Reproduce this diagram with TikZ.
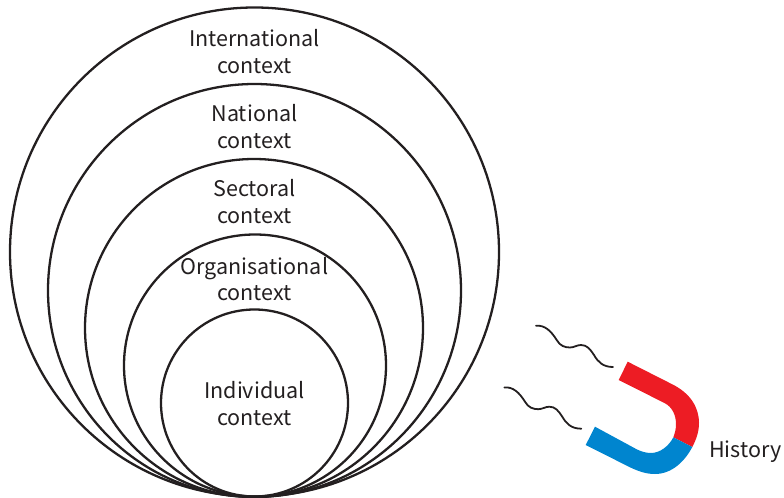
\documentclass[tikz,border=0pt]{standalone}
\usepackage{fontspec}
\setmainfont{Noto Sans CJK SC}
\definecolor{magred}{RGB}{237,28,36}
\definecolor{magblue}{RGB}{0,133,207}
\definecolor{inkc}{RGB}{35,31,32}
\tikzset{
  ring/.style={draw=inkc,line width=2.3pt},
  lab/.style={text=inkc,font=\fontsize{21.6}{26.5}\selectfont,align=center,inner sep=0pt},
  wave/.style={draw=inkc,line width=1.8pt,line cap=round}
}
\begin{document}
\begin{tikzpicture}[x=1bp,y=-1bp]
\useasboundingbox (0,0) rectangle (784,498);
\draw[ring] (254.5,252) circle[radius=244.5];
\draw[ring] (254.5,290.5) circle[radius=206.5];
\draw[ring] (254,328) circle[radius=169];
\draw[ring] (255,365.5) circle[radius=131];
\draw[ring] (254.5,403) circle[radius=93.5];
\node[lab] (intl) at (254.5,51.5) {International\\context};
\node[lab] (natl) at (254.5,126.5) {National\\context};
\node[lab] (sect) at (254.5,201.5) {Sectoral\\context};
\node[lab] (orgn) at (254.5,279) {Organisational\\context};
\node[lab] (indv) at (254.5,403.5) {Individual\\context};
\node[lab,anchor=west] (hist) at (709,452) {History};
% magnet
\fill[magred] (627.7,361.7) -- (618.7,380) -- (665,403.3)
  .. controls (672,407) and (676,415) .. (676,424)
  .. controls (676,429) and (675,433) .. (673.3,437.3)
  -- (692.3,447) .. controls (696,440) and (699,432) .. (699,423)
  .. controls (699,407) and (690,393) .. (671.7,384) -- cycle;
\fill[magblue] (595,426.7) -- (585.7,445) -- (630,467.3)
  .. controls (640,472) and (647,474) .. (655,474)
  .. controls (672,474) and (685,461) .. (692.3,447)
  -- (673.3,437.3) .. controls (669,446) and (660,453) .. (651,453)
  .. controls (647,453) and (642,452) .. (636.7,449.3) -- cycle;
% waves
\draw[wave] (536,325.7) .. controls (545,325) and (551,331) .. (556.7,340)
  .. controls (560,346) and (565,347.5) .. (570,347.5)
  .. controls (574,347.5) and (577,345) .. (581,345)
  .. controls (587,345) and (590,349) .. (594,355)
  .. controls (598,362) and (603,367) .. (613,367);
\draw[wave] (504.3,387.4) .. controls (513.3,386.7) and (519.3,392.7) .. (525,401.7)
  .. controls (528.3,407.7) and (533.3,409.2) .. (538.3,409.2)
  .. controls (542.3,409.2) and (545.3,406.7) .. (549.3,406.7)
  .. controls (555.3,406.7) and (558.3,410.7) .. (562.3,416.7)
  .. controls (566.3,423.7) and (571.3,428.7) .. (581.3,428.7);
\end{tikzpicture}
\end{document}
